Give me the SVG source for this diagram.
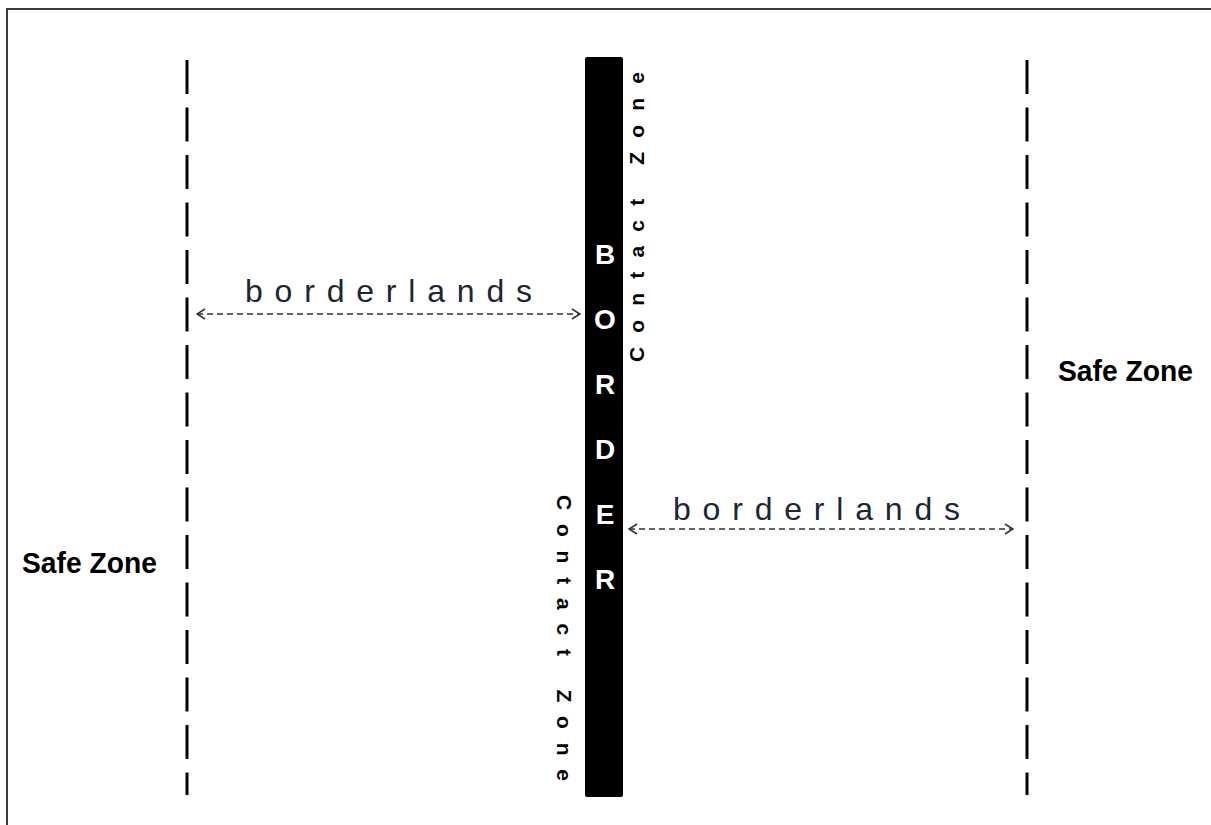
<svg xmlns="http://www.w3.org/2000/svg" width="1211" height="825" viewBox="0 0 1211 825">
<style>
.frame{fill:none;stroke:#3a3a3a;stroke-width:2}
.zone{stroke:#000;stroke-width:3;stroke-dasharray:34 13.5;fill:none}
.arrow{stroke:#333;stroke-width:1.6;stroke-dasharray:6 4;fill:none}
.bl{font-family:"Liberation Sans",Arial,sans-serif;font-size:32px;fill:#1c2633}
.safe{font-family:"Liberation Sans",Arial,sans-serif;font-size:30px;font-weight:bold;fill:#000}
.bord{font-family:"Liberation Sans",Arial,sans-serif;font-size:28px;font-weight:bold;fill:#fff;text-anchor:middle}
.cz{font-family:"Liberation Sans",Arial,sans-serif;font-size:21px;font-weight:bold;fill:#000}
</style>
<defs>
<marker id="chev" viewBox="0 0 10 12" refX="9" refY="6" markerWidth="10" markerHeight="12" markerUnits="userSpaceOnUse" orient="auto-start-reverse">
<path d="M1,1 L9,6 L1,11" fill="none" stroke="#333" stroke-width="1.6"/>
</marker>
</defs>
<rect width="1211" height="825" fill="#fff"/>
<rect class="frame" x="7" y="9" width="1215" height="825"/>

<g id="left-boundary"><line class="zone" x1="187" y1="60" x2="187" y2="795"/></g>
<g id="right-boundary"><line class="zone" x1="1027" y1="60" x2="1027" y2="795"/></g>

<g id="border">
<rect x="585" y="57" width="38" height="740" rx="2" fill="#000"/>
<text class="bord" x="605" y="264">B</text>
<text class="bord" x="605" y="329">O</text>
<text class="bord" x="605" y="394">R</text>
<text class="bord" x="605" y="459">D</text>
<text class="bord" x="605" y="524">E</text>
<text class="bord" x="605" y="589">R</text>
</g>

<g id="contact-zone-top">
<text class="cz" transform="translate(644,362) rotate(-90)" textLength="290" lengthAdjust="spacing">Contact Zone</text>
</g>
<g id="contact-zone-bottom">
<text class="cz" transform="translate(557,495) rotate(90)" textLength="286" lengthAdjust="spacing">Contact Zone</text>
</g>

<g id="safe-zone-left"><text class="safe" x="22" y="573" textLength="135" lengthAdjust="spacingAndGlyphs">Safe Zone</text></g>
<g id="safe-zone-right"><text class="safe" x="1058" y="381" textLength="135" lengthAdjust="spacingAndGlyphs">Safe Zone</text></g>

<g id="borderlands-left"><text class="bl" x="245" y="302" textLength="287" lengthAdjust="spacing">borderlands</text></g>
<g id="borderlands-right"><text class="bl" x="673" y="520" textLength="287" lengthAdjust="spacing">borderlands</text></g>

<g id="connectors">
<line class="arrow" x1="197" y1="314" x2="580" y2="314" marker-start="url(#chev)" marker-end="url(#chev)"/>
<line class="arrow" x1="629" y1="529" x2="1013" y2="529" marker-start="url(#chev)" marker-end="url(#chev)"/>
</g>
</svg>
